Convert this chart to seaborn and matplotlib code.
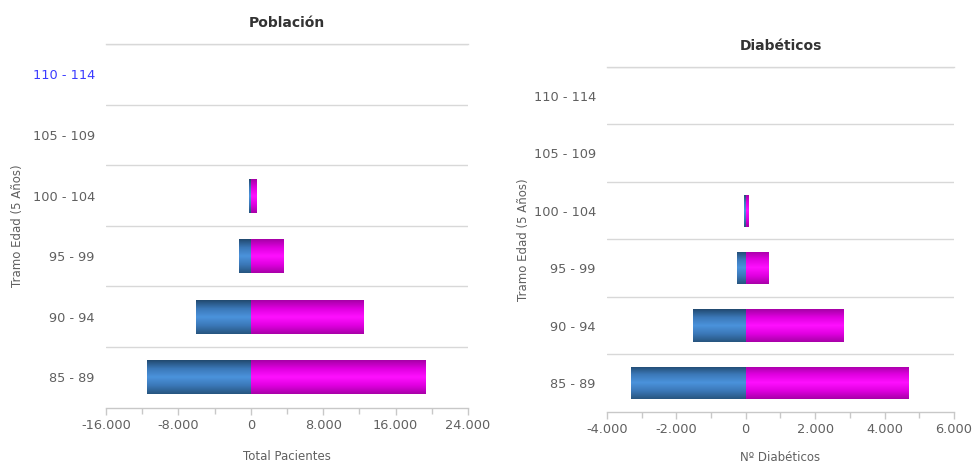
import numpy as np
import pandas as pd
import matplotlib
matplotlib.use("Agg")
import matplotlib.pyplot as plt
from matplotlib.ticker import FuncFormatter, MultipleLocator, FixedLocator
from matplotlib.colors import LinearSegmentedColormap
import seaborn as sns

# Age brackets, top to bottom
tramos = ["110 - 114", "105 - 109", "100 - 104", "95 - 99", "90 - 94", "85 - 89"]

# Total patients (men shown as negative values)
pob_hombres = [0, 0, -150, -1300, -6000, -11500]
pob_mujeres = [0, 0, 580, 3550, 12400, 19300]

# Diabetic patients (men shown as negative values)
dia_hombres = [0, 0, -40, -240, -1520, -3300]
dia_mujeres = [0, 0, 70, 645, 2820, 4670]

sexos = ["Hombres", "Mujeres"]

sns.set_theme(style="white")
plt.rcParams["font.family"] = ["DejaVu Sans"]

TEXT = "#606060"
GRID = "#d8d8d8"

cmaps = {
    "Hombres": LinearSegmentedColormap.from_list(
        "h", ["#21496f", "#3b78b8", "#4b93dc", "#3b78b8", "#27557f"]),
    "Mujeres": LinearSegmentedColormap.from_list(
        "m", ["#a600a6", "#e000e0", "#ff10ff", "#e000e0", "#a800a8"]),
}
base = {"Hombres": "#3b78b8", "Mujeres": "#e000e0"}
borde = {"Hombres": "#dfe8f2", "Mujeres": "#f6e6f6"}


def frame(hombres, mujeres):
    return pd.DataFrame({
        "tramo": tramos * 2,
        "valor": list(hombres) + list(mujeres),
        "sexo": [sexos[0]] * len(tramos) + [sexos[1]] * len(tramos),
    })


def thousands(v, _):
    s = f"{abs(int(round(v))):,}".replace(",", ".")
    return ("-" + s) if v < 0 else s


def draw(ax, df, title, xlabel, xlim, major, minor, title_pad, xlabel_pad):
    sns.barplot(data=df, y="tramo", x="valor", hue="sexo", order=tramos,
                hue_order=sexos, palette=base, dodge=False, width=0.56,
                orient="h", legend=False, ax=ax, linewidth=0, zorder=3)
    n = len(tramos)
    ax.set_xlim(*xlim)
    ax.set_ylim(n - 0.5, -0.5)
    grad = np.linspace(0, 1, 128).reshape(-1, 1)
    for sexo, cont in zip(sexos, ax.containers):
        for p in cont.patches:
            w = p.get_width()
            if w == 0:
                continue
            x0, y0, h = p.get_x(), p.get_y(), p.get_height()
            p.set_facecolor(borde[sexo])
            im = ax.imshow(grad, cmap=cmaps[sexo], aspect="auto",
                           extent=[min(x0, x0 + w), max(x0, x0 + w),
                                   y0 + h, y0],
                           zorder=3.5, interpolation="bilinear")
            im.set_clip_path(p)
    ax.set_xlim(*xlim)
    ax.set_ylim(n - 0.5, -0.5)
    ax.xaxis.set_major_locator(MultipleLocator(major))
    ax.xaxis.set_minor_locator(MultipleLocator(minor))
    ax.xaxis.set_major_formatter(FuncFormatter(thousands))
    ax.yaxis.set_minor_locator(FixedLocator(np.arange(-0.5, n - 1, 1.0)))
    ax.grid(which="minor", axis="y", color=GRID, lw=1.0, zorder=0)
    ax.grid(which="major", visible=False)
    ax.tick_params(axis="y", which="both", length=0, labelsize=9.3,
                   labelcolor=TEXT, pad=8)
    ax.tick_params(axis="x", which="major", direction="out", length=5,
                   width=1, color="#c8c8c8", labelsize=9.3, labelcolor=TEXT,
                   pad=3, bottom=True)
    ax.tick_params(axis="x", which="minor", direction="out", length=4,
                   width=1, color="#c8c8c8", bottom=True)
    for side in ("left", "right"):
        ax.spines[side].set_visible(False)
    ax.spines["top"].set_color(GRID)
    ax.spines["top"].set_linewidth(1.0)
    ax.spines["bottom"].set_color("#c8c8c8")
    ax.spines["bottom"].set_linewidth(1.0)
    ax.set_title(title, fontsize=10, fontweight="bold", color="#333333",
                 pad=title_pad)
    ax.set_xlabel(xlabel, fontsize=8.5, color=TEXT, labelpad=xlabel_pad)
    ax.set_ylabel("Tramo Edad (5 Años)", fontsize=8.5, color=TEXT)


fig = plt.figure(figsize=(9.73, 4.66), dpi=100)
ax1 = fig.add_axes([0.1089, 0.1251, 0.3721, 0.7805])
ax2 = fig.add_axes([0.6238, 0.1165, 0.3566, 0.7397])

draw(ax1, frame(pob_hombres, pob_mujeres), "Población", "Total Pacientes",
     (-16000, 24000), 8000, 4000, 12, 13)
draw(ax2, frame(dia_hombres, dia_mujeres), "Diabéticos", "Nº Diabéticos",
     (-4000, 6000), 2000, 1000, 12, 11)

ax1.get_yticklabels()[0].set_color("#3b3bff")
ax1.yaxis.set_label_coords(-0.226, 0.5)
ax2.yaxis.set_label_coords(-0.222, 0.5)

fig.savefig("out.png", dpi=100, facecolor="white")
